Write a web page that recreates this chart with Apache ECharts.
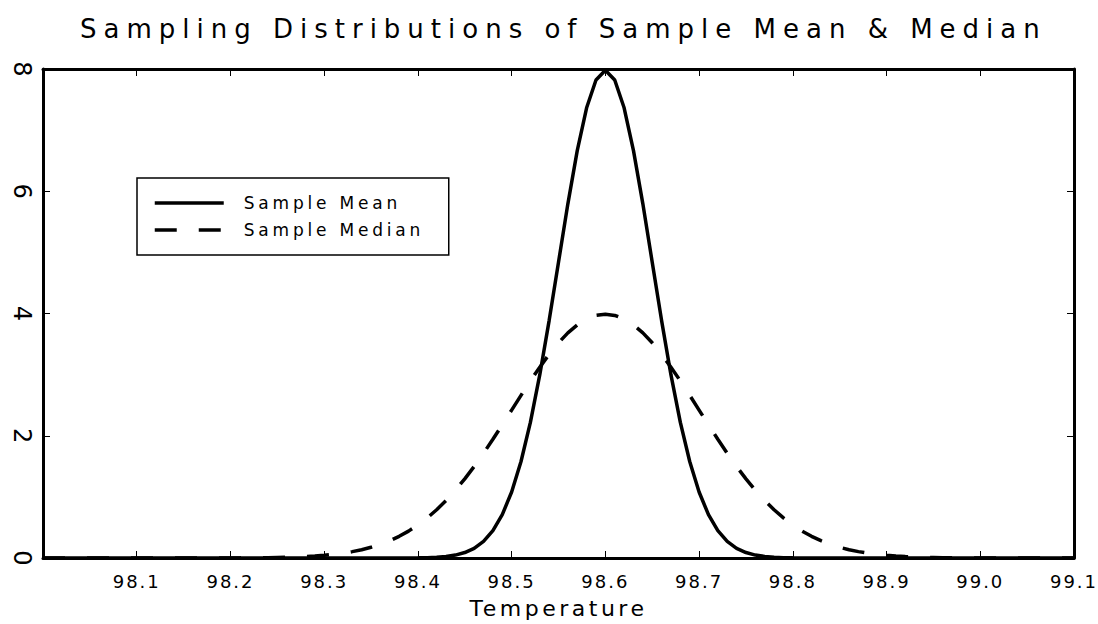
<!DOCTYPE html>
<html>
<head>
<meta charset="utf-8">
<script src="https://cdn.jsdelivr.net/npm/echarts@6/dist/echarts.min.js"></script>
<style>
  html, body { margin: 0; padding: 0; background: #fff; }
  #chart { width: 1098px; height: 624px; }
  /* the original plot uses a widely spaced stroke font */
  #chart text[style*="26px"] { letter-spacing: 7px; }
  #chart text[style*="22px"] { letter-spacing: 3.5px; }
  #chart text[style*="18px"] { letter-spacing: 2px; }
  #chart text[style*="17px"] { letter-spacing: 3.8px; }
</style>
</head>
<body>
<div id="chart"></div>
<script>
// temperature grid: 98.00 .. 99.10, step 0.01
const tempStart = 98.0;
const tempStep = 0.01;

const tickTemps = [98.1, 98.2, 98.3, 98.4, 98.5, 98.6, 98.7, 98.8, 98.9, 99.0, 99.1];
const seriesNames = ['Sample Mean', 'Sample Median'];

// density of the sample mean
const meanDensity = [
  0, 0, 0, 0, 0, 0, 0, 0, 0, 0,
  0, 0, 0, 0, 0, 0, 0, 0, 0, 0,
  0, 0, 0, 0, 0, 0, 0, 0, 0, 0,
  0, 0, 0, 0, 0, 0, 0, 0, 0, 0.001,
  0.003, 0.006, 0.012, 0.025, 0.048, 0.089, 0.158, 0.272, 0.448, 0.709,
  1.080, 1.579, 2.218, 2.995, 3.884, 4.839, 5.794, 6.665, 7.365, 7.821,
  7.979,
  7.821, 7.365, 6.665, 5.794, 4.839, 3.884, 2.995, 2.218, 1.579, 1.080,
  0.709, 0.448, 0.272, 0.158, 0.089, 0.048, 0.025, 0.012, 0.006, 0.003,
  0.001, 0, 0, 0, 0, 0, 0, 0, 0, 0,
  0, 0, 0, 0, 0, 0, 0, 0, 0, 0,
  0, 0, 0, 0, 0, 0, 0, 0, 0, 0
];

// density of the sample median
const medianDensity = [
  0, 0, 0, 0, 0, 0, 0, 0, 0, 0,
  0, 0, 0, 0, 0, 0, 0, 0, 0, 0,
  0.001, 0.002, 0.003, 0.004, 0.006, 0.009, 0.012, 0.017, 0.024, 0.033,
  0.044, 0.060, 0.079, 0.104, 0.136, 0.175, 0.224, 0.283, 0.355, 0.440,
  0.540, 0.656, 0.790, 0.940, 1.109, 1.295, 1.497, 1.714, 1.942, 2.179,
  2.420, 2.661, 2.897, 3.122, 3.332, 3.521, 3.683, 3.814, 3.910, 3.969,
  3.989,
  3.969, 3.910, 3.814, 3.683, 3.521, 3.332, 3.122, 2.897, 2.661, 2.420,
  2.179, 1.942, 1.714, 1.497, 1.295, 1.109, 0.940, 0.790, 0.656, 0.540,
  0.440, 0.355, 0.283, 0.224, 0.175, 0.136, 0.104, 0.079, 0.060, 0.044,
  0.033, 0.024, 0.017, 0.012, 0.009, 0.006, 0.004, 0.003, 0.002, 0.001,
  0, 0, 0, 0, 0, 0, 0, 0, 0, 0
];

const toPairs = arr => arr.map((v, i) => [+(tempStart + i * tempStep).toFixed(2), v]);

const font = '"DejaVu Sans", sans-serif';
const axisLine = { show: true, onZero: false, lineStyle: { color: '#000', width: 3 } };
const axisTick = { show: true, inside: true, length: 7, lineStyle: { color: '#000', width: 1 } };

const chart = echarts.init(document.getElementById('chart'), null, { renderer: 'svg' });

chart.setOption({
  animation: false,
  backgroundColor: '#fff',
  title: {
    text: 'Sampling Distributions of Sample Mean & Median',
    left: 75,
    top: 11,
    textStyle: { fontFamily: font, fontSize: 26, fontWeight: 'normal', color: '#000' }
  },
  legend: {
    orient: 'vertical',
    left: 137,
    top: 178,
    padding: [16, 15, 16, 16],
    itemGap: 9,
    itemWidth: 69,
    itemHeight: 14,
    borderColor: '#000',
    borderWidth: 1.5,
    borderRadius: 0,
    data: seriesNames,
    itemStyle: { opacity: 0 },
    lineStyle: { width: 3.5 },
    textStyle: {
      fontFamily: font, fontSize: 17, color: '#000',
      padding: [0, 0, 0, 15], width: 190, lineHeight: 18
    }
  },
  grid: { left: 43, right: 24, top: 69, bottom: 64, containLabel: false },
  xAxis: [{
    type: 'value',
    min: 98.0,
    max: 99.1,
    interval: 0.1,
    name: 'Temperature',
    nameLocation: 'middle',
    nameGap: 39,
    nameTextStyle: { fontFamily: font, fontSize: 22, color: '#000' },
    axisLine: axisLine,
    axisTick: axisTick,
    splitLine: { show: false },
    axisLabel: {
      showMinLabel: false,
      margin: 14,
      fontFamily: font,
      fontSize: 18,
      color: '#000',
      formatter: v => tickTemps.some(t => Math.abs(t - v) < 1e-6) ? v.toFixed(1) : ''
    }
  }, {
    type: 'value',
    position: 'top',
    min: 98.0,
    max: 99.1,
    interval: 0.1,
    axisLine: axisLine,
    axisTick: axisTick,
    axisLabel: { show: false },
    splitLine: { show: false }
  }],
  yAxis: [{
    type: 'value',
    min: 0,
    max: 8,
    interval: 2,
    axisLine: axisLine,
    axisTick: axisTick,
    splitLine: { show: false },
    axisLabel: {
      rotate: -90,
      margin: 9,
      fontFamily: font,
      fontSize: 24,
      color: '#000'
    }
  }, {
    type: 'value',
    position: 'right',
    min: 0,
    max: 8,
    interval: 2,
    axisLine: axisLine,
    axisTick: axisTick,
    axisLabel: { show: false },
    splitLine: { show: false }
  }],
  series: [{
    name: seriesNames[0],
    type: 'line',
    data: toPairs(meanDensity),
    symbol: 'none',
    lineStyle: { color: '#000', width: 3.5 },
    itemStyle: { color: '#000' }
  }, {
    name: seriesNames[1],
    type: 'line',
    data: toPairs(medianDensity),
    symbol: 'none',
    lineStyle: { color: '#000', width: 3.5, type: [22, 22] },
    itemStyle: { color: '#000' }
  }]
});
</script>
</body>
</html>
